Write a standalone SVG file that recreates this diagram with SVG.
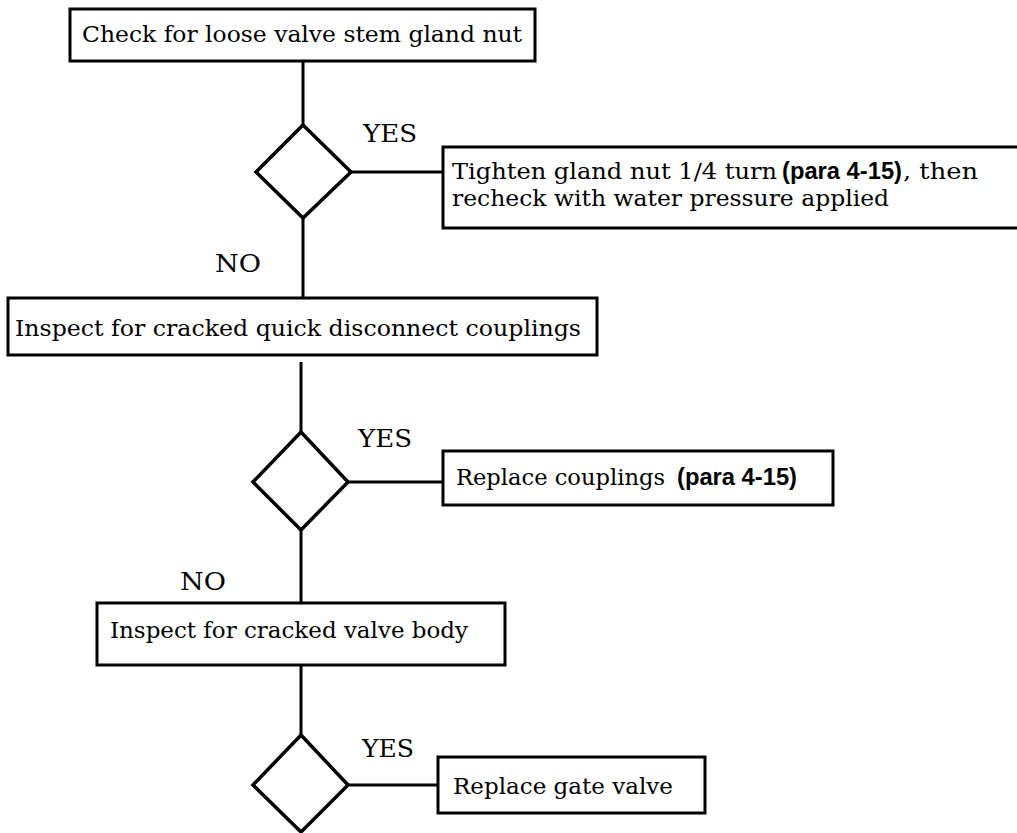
<svg xmlns="http://www.w3.org/2000/svg" width="1017" height="833" viewBox="0 0 1017 833">
<style>
.box{fill:#fff;stroke:#000;stroke-width:3}
.dia{fill:#fff;stroke:#000;stroke-width:3.5;stroke-linejoin:miter}
.ln{stroke:#000;stroke-width:3;fill:none}
.t{font-family:"DejaVu Serif","Liberation Serif",serif;font-size:22px;fill:#000}
.lb{font-family:"DejaVu Serif","Liberation Serif",serif;font-size:24px;fill:#000}
.b{font-family:"Liberation Sans",Arial,sans-serif;font-size:23px;font-weight:bold;fill:#000}
</style>
<rect width="1017" height="833" fill="#fff"/>
<g id="connectors">
<line class="ln" x1="303" y1="61" x2="303" y2="125"/>
<line class="ln" x1="351" y1="172" x2="443" y2="172"/>
<line class="ln" x1="303" y1="218" x2="303" y2="298"/>
<line class="ln" x1="301" y1="362" x2="301" y2="432"/>
<line class="ln" x1="348" y1="482" x2="443" y2="482"/>
<line class="ln" x1="301" y1="530" x2="301" y2="603"/>
<line class="ln" x1="301" y1="665" x2="301" y2="735"/>
<line class="ln" x1="348" y1="785" x2="438" y2="785"/>
<text class="lb" x="363" y="142" textLength="54" lengthAdjust="spacingAndGlyphs">YES</text>
<text class="lb" x="215" y="272" textLength="46" lengthAdjust="spacingAndGlyphs">NO</text>
<text class="lb" x="358" y="447" textLength="54" lengthAdjust="spacingAndGlyphs">YES</text>
<text class="lb" x="180" y="590" textLength="46" lengthAdjust="spacingAndGlyphs">NO</text>
<text class="lb" x="362" y="757" textLength="52" lengthAdjust="spacingAndGlyphs">YES</text>
</g>
<g id="n1">
<rect class="box" x="70" y="9" width="465" height="52"/>
<text class="t" x="82" y="42" textLength="440" lengthAdjust="spacingAndGlyphs">Check for loose valve stem gland nut</text>
</g>
<g id="d1">
<polygon class="dia" points="303,125 351,172 303,218 256,172"/>
</g>
<g id="n2">
<rect class="box" x="443" y="147" width="590" height="81"/>
<text class="t" x="452" y="179" textLength="325" lengthAdjust="spacingAndGlyphs">Tighten gland nut 1/4 turn</text>
<text class="b" x="782" y="179" textLength="120" lengthAdjust="spacingAndGlyphs">(para 4-15)</text>
<text class="t" x="903" y="179" textLength="75" lengthAdjust="spacingAndGlyphs">, then</text>
<text class="t" x="452" y="206" textLength="437" lengthAdjust="spacingAndGlyphs">recheck with water pressure applied</text>
</g>
<g id="n3">
<rect class="box" x="8" y="298" width="589" height="57"/>
<text class="t" x="15" y="336" textLength="566" lengthAdjust="spacingAndGlyphs">Inspect for cracked quick disconnect couplings</text>
</g>
<g id="d2">
<polygon class="dia" points="301,432 348,482 301,530 253,482"/>
</g>
<g id="n4">
<rect class="box" x="443" y="451" width="390" height="54"/>
<text class="t" x="456" y="485" textLength="209" lengthAdjust="spacingAndGlyphs">Replace couplings</text>
<text class="b" x="677" y="485" textLength="120" lengthAdjust="spacingAndGlyphs">(para 4-15)</text>
</g>
<g id="n5">
<rect class="box" x="97" y="603" width="408" height="62"/>
<text class="t" x="110" y="638" textLength="358" lengthAdjust="spacingAndGlyphs">Inspect for cracked valve body</text>
</g>
<g id="d3">
<polygon class="dia" points="301,735 348,785 301,832 253,785"/>
</g>
<g id="n6">
<rect class="box" x="438" y="757" width="267" height="56"/>
<text class="t" x="453" y="794" textLength="220" lengthAdjust="spacingAndGlyphs">Replace gate valve</text>
</g>
</svg>
